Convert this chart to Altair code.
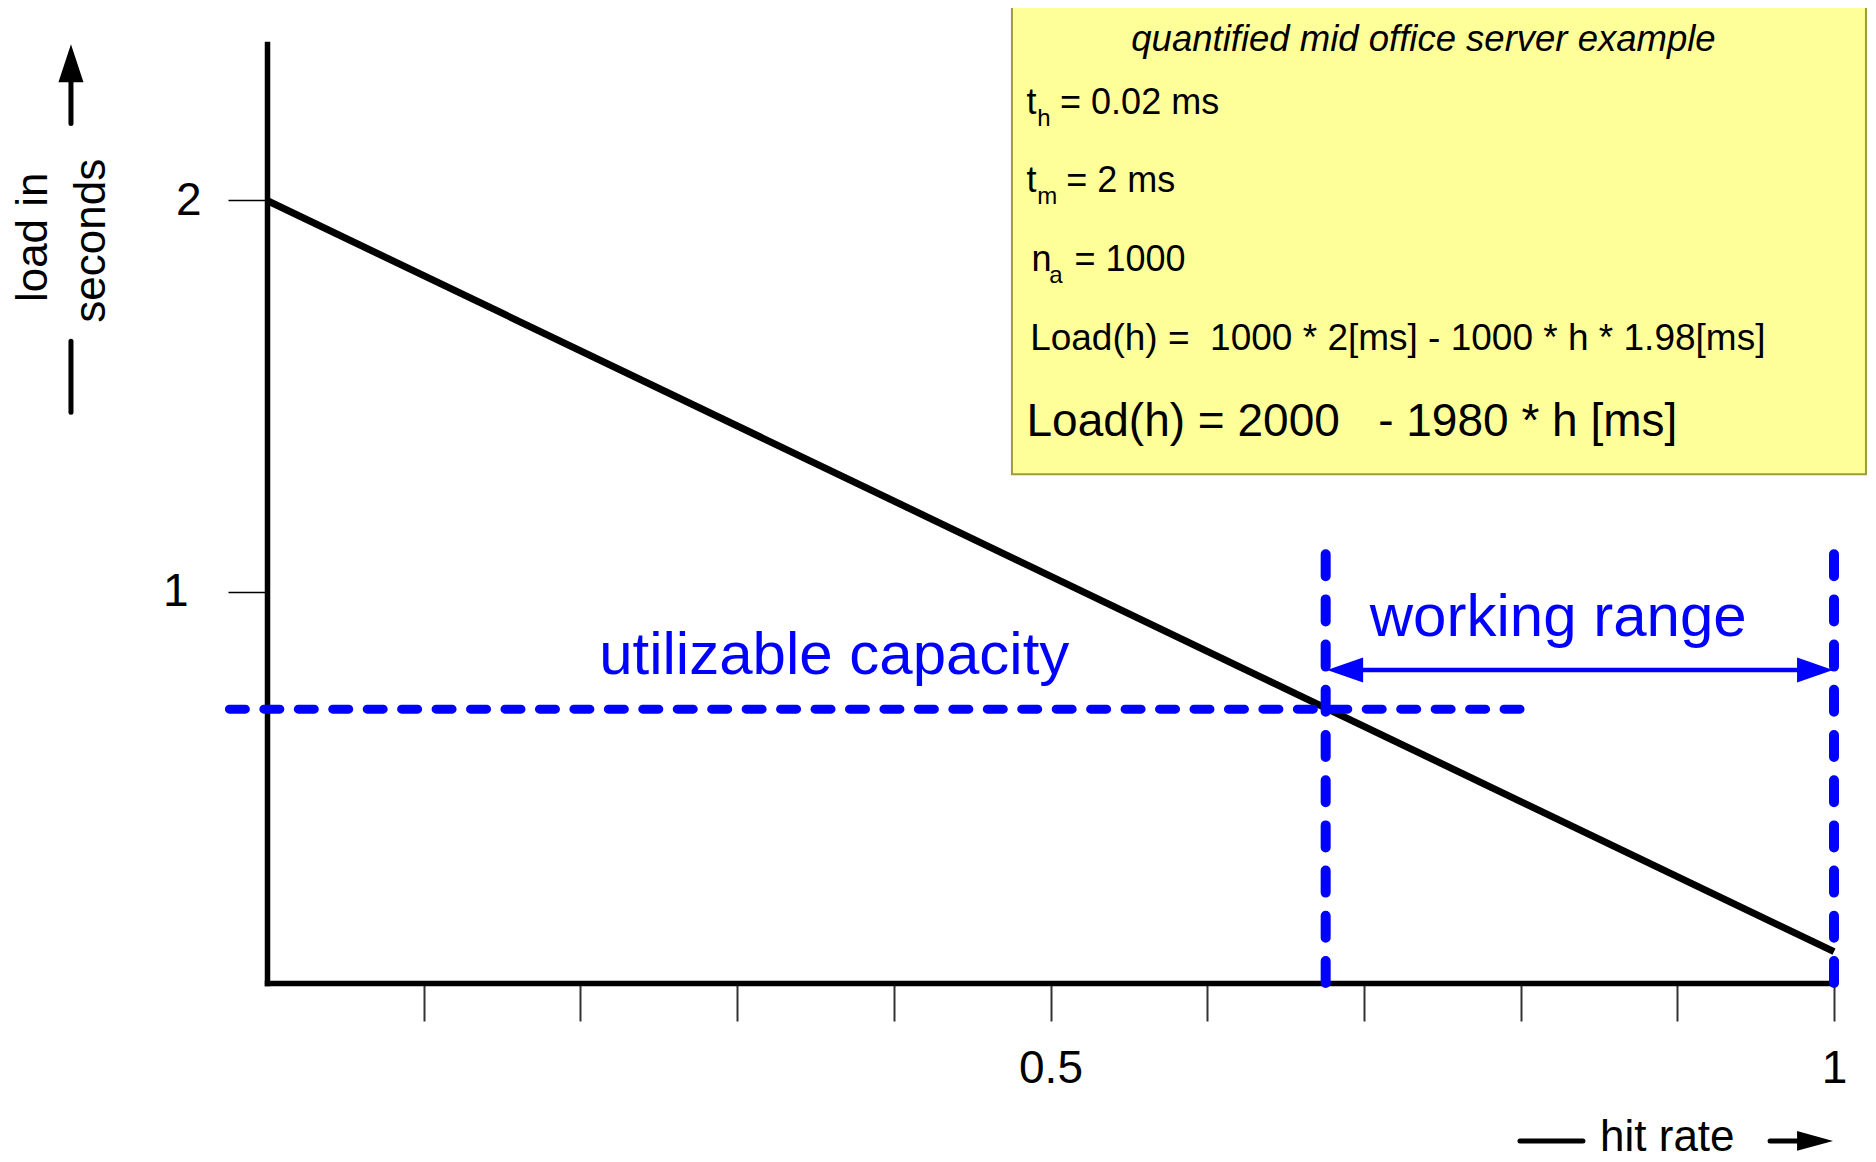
import altair as alt
import pandas as pd

# ---------------- data ----------------
hit_rate = [0.0, 1.0]
load_s = [2.0, 0.08]

x_tick_values = [0.1, 0.2, 0.3, 0.4, 0.5, 0.6, 0.7, 0.8, 0.9, 1.0]
y_tick_values = [1, 2]

capacity_level = 0.70
capacity_from = -0.024
capacity_to = 0.80
range_start = 0.6756
range_end = 1.0
range_top = 1.096
range_arrow_level = 0.80

box_x = [0.4754, 1.0204]
box_y = [1.3005, 2.501]

box_labels = ["t", "= 0.02 ms", "t", "= 2 ms", "n", "= 1000",
              "Load(h) =\u00a0\u00a01000 * 2[ms] - 1000 * h * 1.98[ms]",
              "Load(h) = 2000\u00a0\u00a0\u00a0- 1980 * h [ms]"]
box_label_x = [0.4847, 0.5061, 0.4847, 0.5100, 0.4878, 0.5153, 0.4870, 0.4847]
box_label_y = [2.220, 2.220, 2.021, 2.021, 1.820, 1.820, 1.618, 1.398]
box_label_size = [36, 36, 36, 36, 36, 36, 37, 46]

sub_labels = ["h", "m", "a"]
sub_x = [0.4916, 0.4916, 0.4992]
sub_y = [2.190, 1.991, 1.789]

box_title = "quantified mid office server example"
blue_labels = ["utilizable capacity", "working range"]
blue_x = [0.362, 0.824]
blue_y = [0.789, 0.887]

y_title_parts = ["load in", "seconds"]
y_title_x = [-0.1487, -0.1117]
y_title_y = [1.906, 1.897]
x_title = "hit rate"

FONT = "Liberation Sans"
BLUE = "#0000FF"

xs = alt.Scale(domain=[0, 1], nice=False, zero=False)
ys = alt.Scale(domain=[0, 2.4], nice=False, zero=False)

AX = alt.Axis(
    values=x_tick_values, format="~g",
    labelExpr="(datum.value == 0.5 || datum.value == 1) ? datum.label : ''",
    title=None, grid=False, domainColor="black", domainWidth=5.5, domainCap="square",
    tickColor="#333333", tickWidth=2, tickSize=38,
    labelFont=FONT, labelFontSize=46, labelColor="black",
    labelPadding=25, labelFlush=False, labelOverlap=False)
AY = alt.Axis(
    values=y_tick_values, format="d", title=None, grid=False,
    domainColor="black", domainWidth=5.5, domainCap="square",
    tickColor="black", tickWidth=1.5, tickSize=39,
    labelFont=FONT, labelFontSize=46, labelColor="black",
    labelPadding={"condition": {"test": "datum.value == 1", "value": 40}, "value": 27},
    labelFlush=False, labelOverlap=False)


def X(f, **kw):
    return alt.X(f, scale=xs, axis=AX, **kw)


def Y(f, **kw):
    return alt.Y(f, scale=ys, axis=AY, **kw)


# ---------------- main line ----------------
line_df = pd.DataFrame({"x": hit_rate, "y": load_s})
main = alt.Chart(line_df).mark_line(color="black", strokeWidth=7).encode(
    x=X("x:Q"), y=Y("y:Q"))

# ---------------- blue dashed lines ----------------
hdash = alt.Chart(pd.DataFrame({"x": [capacity_from], "x2": [capacity_to], "y": [capacity_level]})).mark_rule(
    color=BLUE, strokeWidth=9, strokeDash=[16, 18.45], strokeCap="round").encode(
    x=X("x:Q"), x2="x2:Q", y=Y("y:Q"))

vdash = alt.Chart(pd.DataFrame({"x": [range_start, range_end], "y": [range_top, range_top], "y2": [0, 0]})).mark_rule(
    color=BLUE, strokeWidth=10, strokeDash=[22, 23.2], strokeCap="round").encode(
    x=X("x:Q"), y=Y("y:Q"), y2="y2:Q")

range_line = alt.Chart(pd.DataFrame({"x": [range_start + 0.02], "x2": [range_end - 0.02], "y": [range_arrow_level]})).mark_rule(
    color=BLUE, strokeWidth=4.5).encode(x=X("x:Q"), x2="x2:Q", y=Y("y:Q"))

head_left = alt.Chart(pd.DataFrame({"x": [0.688], "y": [range_arrow_level]})).mark_point(
    shape="M-1,0L1,-0.7L1,0.7Z", size=1296, filled=True, color=BLUE, opacity=1, strokeWidth=0).encode(
    x=X("x:Q"), y=Y("y:Q"))
head_right = alt.Chart(pd.DataFrame({"x": [0.9879], "y": [range_arrow_level]})).mark_point(
    shape="M1,0L-1,-0.7L-1,0.7Z", size=1296, filled=True, color=BLUE, opacity=1, strokeWidth=0).encode(
    x=X("x:Q"), y=Y("y:Q"))

blue_text = alt.Chart(pd.DataFrame({"label": blue_labels, "x": blue_x, "y": blue_y})).mark_text(
    font=FONT, fontSize=60, color=BLUE, align="center", baseline="alphabetic").encode(
    x=X("x:Q"), y=Y("y:Q"), text="label:N")

# ---------------- yellow box ----------------
box = alt.Chart(pd.DataFrame({"x": [box_x[0]], "x2": [box_x[1]], "y": [box_y[0]], "y2": [box_y[1]]})).mark_rect(
    fill="#FFFF99", stroke="#9C9C3A", strokeWidth=2, opacity=1).encode(
    x=X("x:Q"), x2="x2:Q", y=Y("y:Q"), y2="y2:Q")

box_title_t = alt.Chart(pd.DataFrame({"label": [box_title], "x": [0.738], "y": [2.382]})).mark_text(
    font=FONT, fontSize=36.5, fontStyle="italic", color="black", align="center", baseline="alphabetic").encode(
    x=X("x:Q"), y=Y("y:Q"), text="label:N")

box_text = alt.Chart(pd.DataFrame({"label": box_labels, "x": box_label_x, "y": box_label_y,
                                   "fs": box_label_size})).mark_text(
    font=FONT, color="black", align="left", baseline="alphabetic").encode(
    x=X("x:Q"), y=Y("y:Q"), text="label:N", size=alt.Size("fs:Q", scale=None, legend=None))

sub_text = alt.Chart(pd.DataFrame({"label": sub_labels, "x": sub_x, "y": sub_y})).mark_text(
    font=FONT, fontSize=24, color="black", align="left", baseline="alphabetic").encode(
    x=X("x:Q"), y=Y("y:Q"), text="label:N")

# ---------------- axis titles with arrows ----------------
ytitle = alt.Chart(pd.DataFrame({"label": y_title_parts, "x": y_title_x, "y": y_title_y})).mark_text(
    font=FONT, fontSize=44, color="black", angle=270, align="center", baseline="middle").encode(
    x=X("x:Q"), y=Y("y:Q"), text="label:N")

yarrow_lines = alt.Chart(pd.DataFrame({"x": [-0.1251, -0.1251], "y": [2.197, 1.640], "y2": [2.31, 1.459]})).mark_rule(
    color="black", strokeWidth=5, strokeCap="round").encode(x=X("x:Q"), y=Y("y:Q"), y2="y2:Q")
yarrow_head = alt.Chart(pd.DataFrame({"x": [-0.1251], "y": [2.351]})).mark_point(
    shape="M0,-1L0.66,1L-0.66,1Z", size=1444, filled=True, color="black", opacity=1, strokeWidth=0).encode(
    x=X("x:Q"), y=Y("y:Q"))

xtitle = alt.Chart(pd.DataFrame({"label": [x_title], "x": [0.8507], "y": [-0.429]})).mark_text(
    font=FONT, fontSize=44, color="black", align="left", baseline="alphabetic").encode(
    x=X("x:Q"), y=Y("y:Q"), text="label:N")
xarrow_lines = alt.Chart(pd.DataFrame({"x": [0.7996, 0.9592], "x2": [0.8398, 0.980], "y": [-0.4037, -0.4037]})).mark_rule(
    color="black", strokeWidth=5, strokeCap="round").encode(x=X("x:Q"), x2="x2:Q", y=Y("y:Q"))
xarrow_head = alt.Chart(pd.DataFrame({"x": [0.9879], "y": [-0.4037]})).mark_point(
    shape="M1,0L-1,-0.55L-1,0.55Z", size=1296, filled=True, color="black", opacity=1, strokeWidth=0).encode(
    x=X("x:Q"), y=Y("y:Q"))

chart = alt.layer(
    main, hdash, vdash, range_line, head_left, head_right, blue_text,
    box, box_title_t, box_text, sub_text,
    ytitle, yarrow_lines, yarrow_head, xtitle, xarrow_lines, xarrow_head,
).properties(
    width=1567, height=939,
    autosize=alt.AutoSizeParams(type="none"),
    padding={"left": 259, "top": 36, "right": 34, "bottom": 178},
    background="white",
).configure_view(stroke=None)

chart.save("out.html", embed_options={"renderer": "svg", "actions": False})
